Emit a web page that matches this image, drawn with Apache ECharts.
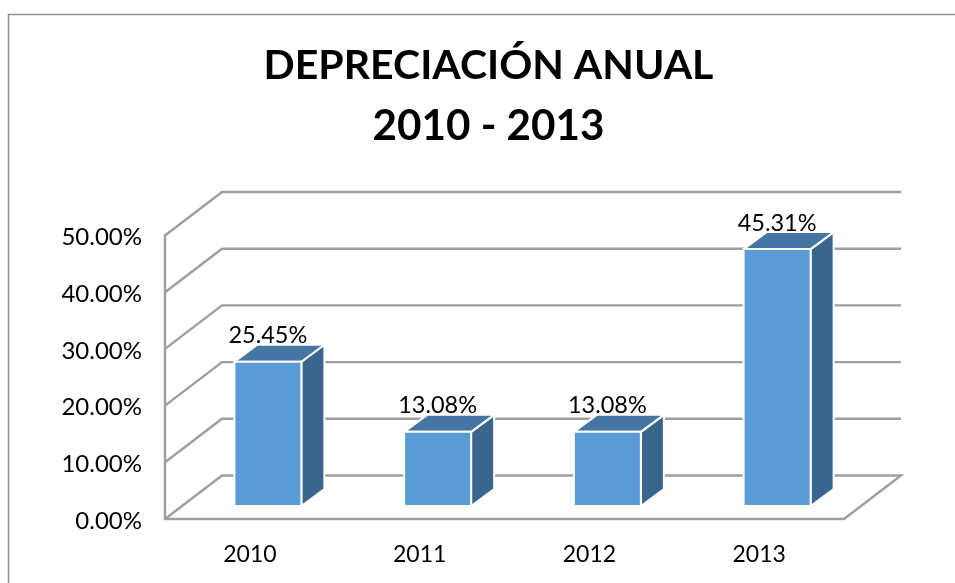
<!DOCTYPE html>
<html><head><meta charset="utf-8">
<style>html,body{margin:0;padding:0;background:#fff}#c{width:955px;height:583px}</style>
<script src="https://cdn.jsdelivr.net/npm/echarts@6/dist/echarts.min.js"></script>
</head><body><div id="c"></div>
<script>
const categories = ['2010','2011','2012','2013'];
const depreciacion = [25.45,13.08,13.08,45.31];
const ticks = [0,10,20,30,40,50];
const titleLines = ['DEPRECIACIÓN ANUAL','2010 - 2013'];

const FONT = 'Lato';
const GRID = '#9e9e9e';
const WALL_DX = 57, WALL_DY = -43.5;
const BAR_DX = 18, BAR_DY = -13;
const DEPTH_DX = 23, DEPTH_DY = -17;
const BAR_W = 67;

const chart = echarts.init(document.getElementById('c'), null, {renderer:'canvas'});

function renderWall(params, api){
  const v = api.value(0);
  const p = api.coord([0, v]);
  const cs = params.coordSys;
  const y = p[1];
  const x0 = cs.x, x1 = cs.x + cs.width;
  const pts = [[x0,y],[x0+WALL_DX,y+WALL_DY],[x1+WALL_DX,y+WALL_DY]];
  if (v === 0) pts.push([x1,y]);
  return {type:'polyline', shape:{points:pts},
    style:{stroke:GRID, lineWidth:2.4, fill:null}};
}
function renderBar(params, api){
  const c = api.coord([api.value(0), api.value(1)]);
  const b = api.coord([api.value(0), 0]);
  const xl = c[0] + BAR_DX - BAR_W/2, xr = xl + BAR_W;
  const yt = c[1] + BAR_DY, yb = b[1] + BAR_DY;
  const dx = DEPTH_DX, dy = DEPTH_DY;
  const edge = {stroke:'#ffffff', lineWidth:2, lineJoin:'round'};
  return {type:'group', children:[
    {type:'polygon', shape:{points:[[xr,yt],[xr+dx,yt+dy],[xr+dx,yb+dy],[xr,yb]]},
      style:Object.assign({fill:'#3A658C'},edge)},
    {type:'polygon', shape:{points:[[xl,yt],[xl+dx,yt+dy],[xr+dx,yt+dy],[xr,yt]]},
      style:Object.assign({fill:'#4576A3'},edge)},
    {type:'rect', shape:{x:xl,y:yt,width:BAR_W,height:yb-yt},
      style:Object.assign({fill:'#5B9BD5'},edge)},
    {type:'text', style:{text:api.value(1).toFixed(2)+'%', x:(xl+xr)/2, y:yt-26,
      align:'center', verticalAlign:'middle', fill:'#000', font:'23.5px '+FONT}}
  ]};
}
chart.setOption({
  animation:false,
  backgroundColor:'#fff',
  title:{text:'{a|'+titleLines[0]+'}\n{b|'+titleLines[1]+'}', left:483.5, top:30, textAlign:'center',
    textStyle:{rich:{
      a:{fontFamily:FONT, fontWeight:'bold', fontSize:41, lineHeight:61, color:'#000', align:'center'},
      b:{fontFamily:FONT, fontWeight:'bold', fontSize:42.2, lineHeight:61, color:'#000', align:'center'}
    }}},
  grid:{left:165, right:111, top:235.5, bottom:64},
  xAxis:{type:'category', data:categories,
    axisLine:{show:true,lineStyle:{color:GRID,width:2.4}}, axisTick:{show:false},
    axisLabel:{color:'#000',fontFamily:FONT,fontSize:23,margin:24}},
  yAxis:{type:'value', min:0, max:50, interval:10,
    axisLine:{show:true,lineStyle:{color:GRID,width:2.4}}, axisTick:{show:false},
    splitLine:{show:false},
    axisLabel:{margin:23,
      formatter:v=>'{t|'+v.toFixed(2)+'%}',
      rich:{t:{color:'#000',fontFamily:FONT,fontSize:24,padding:[4,0,0,0]}}}},
  graphic:[{type:'polyline', shape:{points:[[8.5,583],[8.5,14.5],[955,14.5]]},
    style:{stroke:'#8f8f8f',lineWidth:1.5,fill:null}}],
  series:[
    {type:'custom', coordinateSystem:'cartesian2d', z:1, silent:true,
      data:ticks.map(t=>[t]), encode:{y:0}, renderItem:renderWall},
    {type:'custom', coordinateSystem:'cartesian2d', z:3,
      data:depreciacion.map((v,i)=>[i,v]), encode:{x:0,y:1}, renderItem:renderBar}
  ]
});
</script></body></html>
